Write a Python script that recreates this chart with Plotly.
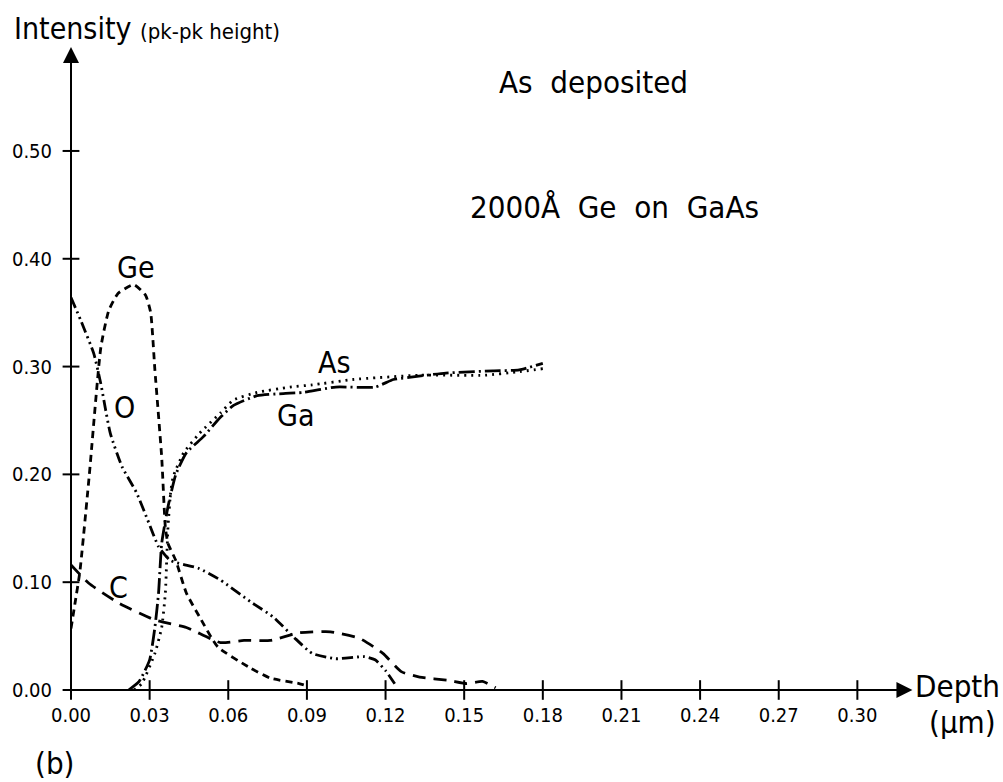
import plotly.graph_objects as go

# ---- data ----
ge_x = [0, 0.0015, 0.0034, 0.007, 0.0114, 0.0144, 0.018, 0.024, 0.0285, 0.0304, 0.032, 0.0346, 0.036,
        0.037, 0.040, 0.044, 0.049, 0.056, 0.068, 0.076, 0.087, 0.090]
ge_y = [0.057, 0.08, 0.11, 0.20, 0.318, 0.352, 0.368, 0.376, 0.366, 0.35, 0.297, 0.216, 0.151,
        0.136, 0.12, 0.09, 0.068, 0.04, 0.021, 0.011, 0.006, 0.004]

o_x = [0, 0.0037, 0.0087, 0.0113, 0.015, 0.0195, 0.025, 0.0297, 0.0334, 0.038, 0.0486, 0.057, 0.069,
       0.077, 0.085, 0.092, 0.101, 0.112, 0.116, 0.120, 0.124]
o_y = [0.364, 0.343, 0.312, 0.285, 0.238, 0.207, 0.183, 0.155, 0.133, 0.12, 0.113, 0.102, 0.081,
       0.068, 0.049, 0.034, 0.029, 0.031, 0.028, 0.018, 0.004]

c_x = [0, 0.0068, 0.018, 0.032, 0.044, 0.057, 0.066, 0.076, 0.087, 0.099, 0.110, 0.119, 0.126,
       0.133, 0.144, 0.151, 0.157, 0.162]
c_y = [0.116, 0.099, 0.081, 0.065, 0.058, 0.044, 0.046, 0.046, 0.053, 0.054, 0.048, 0.034, 0.017,
       0.012, 0.009, 0.006, 0.008, 0.002]

ga_x = [0.022, 0.026, 0.030, 0.032, 0.0334, 0.0346, 0.037, 0.040, 0.044, 0.0505, 0.057, 0.062, 0.071,
        0.081, 0.0885, 0.101, 0.116, 0.123, 0.129, 0.143, 0.161, 0.171, 0.180]
ga_y = [0.0, 0.008, 0.028, 0.058, 0.09, 0.136, 0.17, 0.20, 0.22, 0.235, 0.253, 0.264, 0.273,
        0.275, 0.276, 0.281, 0.281, 0.288, 0.290, 0.294, 0.296, 0.297, 0.303]

as_x = [0.024, 0.027, 0.032, 0.0346, 0.036, 0.0365, 0.037, 0.038, 0.039, 0.043, 0.049, 0.057, 0.062,
        0.071, 0.0835, 0.092, 0.1075, 0.133, 0.158, 0.170, 0.180]
as_y = [0.0, 0.006, 0.034, 0.058, 0.09, 0.12, 0.151, 0.183, 0.198, 0.22, 0.238, 0.257, 0.269,
        0.276, 0.281, 0.283, 0.288, 0.292, 0.292, 0.295, 0.298]

x_ticks = [0.00, 0.03, 0.06, 0.09, 0.12, 0.15, 0.18, 0.21, 0.24, 0.27, 0.30]
x_tick_labels = ["0.00", "0.03", "0.06", "0.09", "0.12", "0.15", "0.18", "0.21", "0.24", "0.27", "0.30"]
y_ticks = [0.00, 0.10, 0.20, 0.30, 0.40, 0.50]
y_tick_labels = ["0.00", "0.10", "0.20", "0.30", "0.40", "0.50"]

FONT = "DejaVu Sans Condensed, DejaVu Sans, sans-serif"
LW = 2.8

fig = go.Figure()

def add_curve(x, y, dash):
    fig.add_trace(go.Scatter(x=x, y=y, mode="lines", cliponaxis=False, showlegend=False,
                             line=dict(color="black", width=LW, dash=dash, shape="spline", smoothing=0.5),
                             hoverinfo="skip"))

add_curve(ge_x, ge_y, "7px,5px")
add_curve(o_x, o_y, "11px,4px,2px,4px,2px,4px")
add_curve(c_x, c_y, "13px,8px")
add_curve(ga_x, ga_y, "16px,4px,2px,4px")
add_curve(as_x, as_y, "2px,5px")

# tick crosses derived from tick arrays
fig.add_trace(go.Scatter(x=x_ticks, y=[0] * len(x_ticks), mode="markers", cliponaxis=False,
                         showlegend=False, hoverinfo="skip",
                         marker=dict(symbol="line-ns", size=14, line=dict(color="black", width=2))))
fig.add_trace(go.Scatter(x=[0] * len(y_ticks), y=y_ticks, mode="markers", cliponaxis=False,
                         showlegend=False, hoverinfo="skip",
                         marker=dict(symbol="line-ew", size=12, line=dict(color="black", width=2))))

X_MAX = 0.3403
Y_MAX = 0.6122

fig.update_layout(
    width=1003, height=782,
    margin=dict(l=67, r=40, t=30, b=92),
    paper_bgcolor="white", plot_bgcolor="white",
    font=dict(family=FONT, color="black"),
    xaxis=dict(range=[0, X_MAX], showgrid=False, zeroline=False, showline=False,
               tickvals=x_ticks, ticktext=x_tick_labels, ticks="outside", ticklen=7,
               tickcolor="rgba(0,0,0,0)", tickfont=dict(size=20, family=FONT)),
    yaxis=dict(range=[0, Y_MAX], showgrid=False, zeroline=False, showline=False,
               tickvals=y_ticks, ticktext=y_tick_labels, ticks="outside", ticklen=14,
               tickcolor="rgba(0,0,0,0)", tickfont=dict(size=20, family=FONT)),
)

# axes with arrows
fig.add_annotation(x=0.321, y=0, ax=0, ay=0, axref="x", ayref="y", xref="x", yref="y",
                   text="", showarrow=True, arrowhead=2, arrowsize=1.6, arrowwidth=2, arrowcolor="black")
fig.add_annotation(x=0, y=0.5965, ax=0, ay=0, axref="x", ayref="y", xref="x", yref="y",
                   text="", showarrow=True, arrowhead=2, arrowsize=1.6, arrowwidth=2, arrowcolor="black")

def label(x, y, text, size, xanchor="center", ref="x"):
    fig.add_annotation(x=x, y=y, xref=ref if ref == "paper" else "x", yref=ref if ref == "paper" else "y",
                       text=text, showarrow=False,
                       xanchor=xanchor, yanchor="middle", font=dict(size=size, family=FONT, color="black"))

label(-0.0658, 1.003, "Intensity <span style='font-size:22px'>(pk-pk height)</span>", 30,
      xanchor="left", ref="paper")
label(0.3213, 0.004, "Depth", 31, xanchor="left")
label(0.9989, -0.0485, "(μm)", 31, ref="paper")
label(-0.019, -0.1106, "(b)", 31, ref="paper")
label(0.1994, 0.564, "As\u00a0\u00a0deposited", 31)
label(0.2074, 0.448, "2000Å\u00a0\u00a0Ge\u00a0\u00a0on\u00a0\u00a0GaAs", 31)
label(0.0247, 0.392, "Ge", 30)
label(0.0205, 0.262, "O", 30)
label(0.0182, 0.0955, "C", 30)
label(0.1006, 0.304, "As", 30)
label(0.0858, 0.255, "Ga", 30)

fig.write_html("out.html")
